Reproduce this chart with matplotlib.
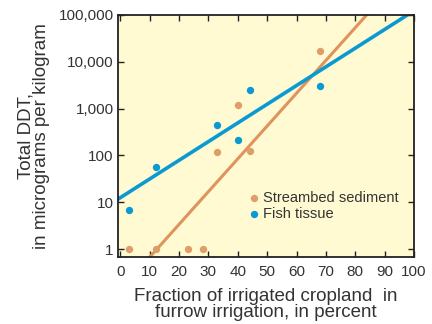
import numpy as np
import matplotlib
matplotlib.use("Agg")
import matplotlib.pyplot as plt
from matplotlib.ticker import FixedLocator, NullLocator

plt.rcParams['font.family'] = ['Liberation Sans', 'DejaVu Sans']

# streambed sediment samples
sed_x = [3, 12, 23, 28, 33, 40, 44, 68]
sed_y = [1, 1, 1, 1, 120, 1200, 125, 17000]

# fish tissue samples
fish_x = [3, 12, 33, 40, 44, 68]
fish_y = [7, 56, 440, 210, 2500, 3000]

# fitted lines: log10(ddt) = a + b * x
sed_fit = (-0.87, 0.070)
fish_fit = (1.10, 0.0399)

y_ticks = [1, 10, 100, 1000, 10000, 100000]
y_labels = ["1", "10", "100", "1,000", "10,000", "100,000"]
x_ticks = [0, 10, 20, 30, 40, 50, 60, 70, 80, 90, 100]

orange = "#DE9E6A"
orange_line = "#E0935C"
blue = "#0A9AD2"
text_col = "#333333"

fig = plt.figure(figsize=(4.32, 3.24), dpi=100)
ax = fig.add_axes([118 / 432, 1 - 257 / 324, 296 / 432, 242 / 324])
ax.set_facecolor("#FFFAD2")

ax.set_yscale("log")
ax.set_xlim(-0.8, 100)
ax.set_ylim(0.68, 1e5)

xx = np.linspace(-1, 101, 200)
ax.plot(xx, 10 ** (sed_fit[0] + sed_fit[1] * xx), color=orange_line, lw=2.2, zorder=2)
ax.plot(xx, 10 ** (fish_fit[0] + fish_fit[1] * xx), color=blue, lw=2.6, zorder=2)

ax.scatter(sed_x, sed_y, s=28, color=orange, zorder=3, linewidths=0)
ax.scatter(fish_x, fish_y, s=28, color=blue, zorder=3, linewidths=0)

# legend drawn as markers + text
ax.scatter([45.5], [12.5], s=28, color=orange, linewidths=0, zorder=3)
ax.scatter([45.5], [5.6], s=28, color=blue, linewidths=0, zorder=3)
ax.text(48.5, 12.5, "Streambed sediment", va="center", ha="left", fontsize=10.5, color=text_col)
ax.text(48.5, 5.6, "Fish tissue", va="center", ha="left", fontsize=10.5, color=text_col)

ax.yaxis.set_major_locator(FixedLocator(y_ticks))
ax.yaxis.set_minor_locator(NullLocator())
ax.set_yticklabels(y_labels)
ax.set_xticks(x_ticks)

ax.tick_params(direction="in", top=True, right=True, length=4, width=1,
               labelsize=11, labelcolor=text_col, colors="#222222", pad=3)
ax.tick_params(axis="x", pad=6)
for sp in ax.spines.values():
    sp.set_linewidth(1.3)
    sp.set_color("#222222")

ax.set_xlabel("Fraction of irrigated cropland  in\nfurrow irrigation, in percent",
              fontsize=13.5, color=text_col, linespacing=0.95, labelpad=6)
ax.set_ylabel("Total DDT,\nin micrograms per kilogram",
              fontsize=13.5, color=text_col, linespacing=0.95, labelpad=6)

fig.savefig("out.png", dpi=100)
